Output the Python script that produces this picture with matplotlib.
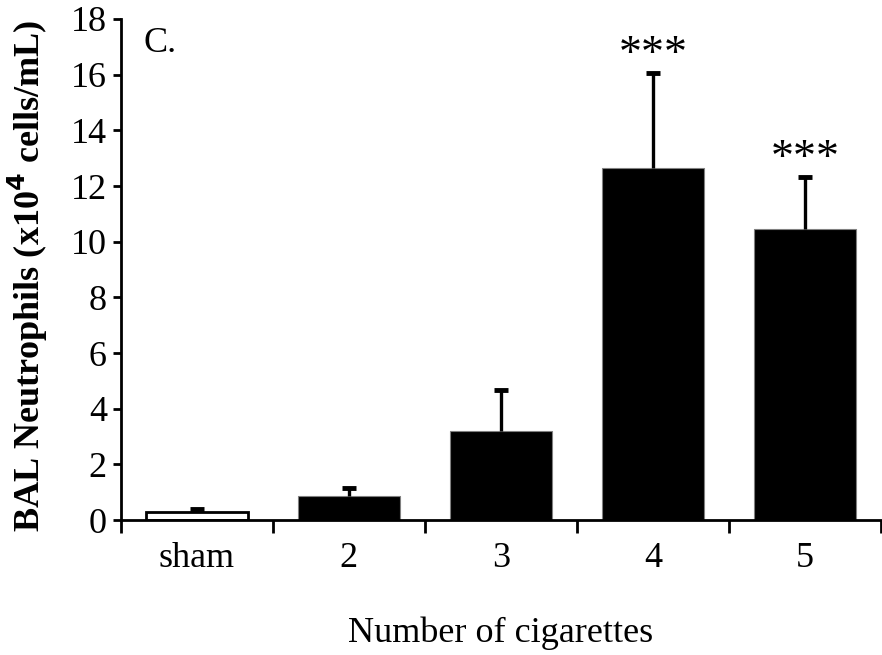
import matplotlib
matplotlib.use("Agg")
import matplotlib.pyplot as plt
import numpy as np

categories = ["sham", "2", "3", "4", "5"]
means = [0.30, 0.86, 3.20, 12.66, 10.46]
errors = [0.09, 0.28, 1.46, 3.39, 1.88]
stars = ["", "", "", "***", "***"]
colors = ["white", "black", "black", "black", "black"]

plt.rcParams['font.family'] = ['Liberation Serif', 'DejaVu Serif']

fig = plt.figure(figsize=(8.82, 6.55), dpi=100)
ax = fig.add_axes([0.137, 0.206, 0.862, 0.765])

x = np.arange(len(categories))
tops = np.array(means) + np.array(errors)
ax.bar(x, means, width=0.67, color=colors, edgecolor=["black", "#808080", "#808080", "#808080", "#808080"],
       linewidth=[2, 0.8, 0.8, 0.8, 0.8], zorder=2)
ax.vlines(x, means, tops, colors='black', linewidth=2.4, zorder=3)
ax.plot(x, tops, linestyle='none', marker='_', markersize=10, markeredgewidth=3.5, color='black', zorder=3)

for xi, t, s in zip(x, tops, stars):
    if s:
        ax.annotate(s, (xi, t), xytext=(0, -3), textcoords='offset points',
                    ha='center', va='bottom', fontsize=33)

ax.text(0.03, 0.985, "C.", transform=ax.transAxes, fontsize=26, ha='left', va='top')

ax.set_xlim(-0.5, 4.5)
ax.set_ylim(0, 18)
ax.set_yticks(np.arange(0, 19, 2))
ax.set_xticks(np.arange(-0.5, 4.6, 1.0))
ax.set_xticklabels([])
ax.set_xticks(x, minor=True)
ax.set_xticklabels(categories, minor=True)
ax.tick_params(axis='x', which='minor', length=0, pad=16, labelsize=26)
ax.tick_params(axis='x', which='major', length=9, width=2, direction='out')
ax.tick_params(axis='y', length=6, width=2, direction='out', labelsize=26, pad=4)

for side in ['top', 'right']:
    ax.spines[side].set_visible(False)
for side in ['left', 'bottom']:
    ax.spines[side].set_linewidth(2)

ax.set_ylabel(r"BAL Neutrophils (x10$^{\mathbf{4}}$ cells/mL)", fontsize=26, fontweight='bold')
ax.yaxis.set_label_coords(-0.093, 0.487)
ax.set_xlabel("Number of cigarettes", fontsize=26, labelpad=30)

fig.savefig("out.png", dpi=100)
